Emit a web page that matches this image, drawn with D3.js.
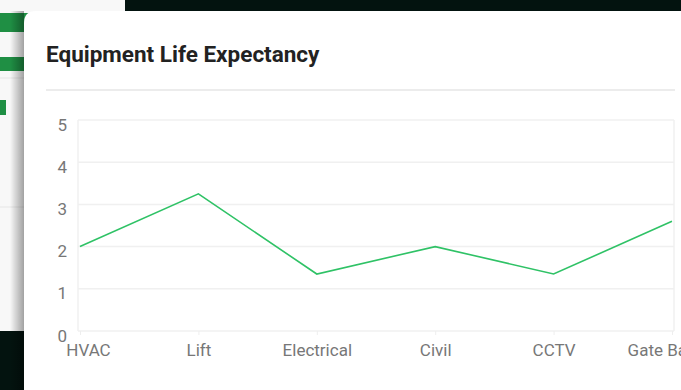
<!DOCTYPE html>
<html>
<head>
<meta charset="utf-8">
<script src="https://cdn.jsdelivr.net/npm/d3@7"></script>
<style>
  html, body { margin: 0; padding: 0; background: #03130f; }
  svg { display: block; font-family: Roboto, "Noto Sans", sans-serif; }
</style>
</head>
<body>
<div class="chart"></div>
<script>
// chart data
var categories = ["HVAC", "Lift", "Electrical", "Civil", "CCTV", "Gate Barrier"];
var lifeValues = [2, 3.25, 1.35, 2, 1.35, 2.6];
var yTicks = [0, 1, 2, 3, 4, 5];

var svgWidth = 681, svgHeight = 390;
var margin = { top: 120, right: 7, bottom: 59, left: 78 };
var width = svgWidth - margin.left - margin.right;
var height = svgHeight - margin.top - margin.bottom;

var svg = d3.select(".chart")
  .append("svg")
  .attr("width", svgWidth)
  .attr("height", svgHeight);

// background app behind the card
var defs = svg.append("defs");
var shadow = defs.append("linearGradient").attr("id", "shadow")
  .attr("x1", "0").attr("x2", "1");
shadow.append("stop").attr("offset", "0").attr("stop-color", "#000").attr("stop-opacity", 0);
shadow.append("stop").attr("offset", "1").attr("stop-color", "#000").attr("stop-opacity", 0.35);

svg.append("rect").attr("x", 0).attr("y", 0).attr("width", 125).attr("height", 331).attr("fill", "#f8f8f8");
svg.append("rect").attr("x", 0).attr("y", 13).attr("width", 40).attr("height", 19).attr("fill", "#1f8f44");
svg.append("rect").attr("x", 0).attr("y", 57).attr("width", 40).attr("height", 14).attr("fill", "#1f8f44");
svg.append("rect").attr("x", 0).attr("y", 100).attr("width", 6).attr("height", 15).attr("fill", "#1f8f44");
svg.append("line").attr("x1", 0).attr("x2", 24).attr("y1", 78).attr("y2", 78).attr("stroke", "#e6e6e6");
svg.append("line").attr("x1", 0).attr("x2", 24).attr("y1", 207).attr("y2", 207).attr("stroke", "#e6e6e6");
svg.append("rect").attr("x", 10).attr("y", 11).attr("width", 14).attr("height", 379).attr("fill", "url(#shadow)");

// card
svg.append("path")
  .attr("d", "M24,390 L24,23 Q24,11 36,11 L681,11 L681,390 Z")
  .attr("fill", "#ffffff");

svg.append("text")
  .attr("x", 46).attr("y", 62)
  .style("font-size", "22.5px")
  .style("font-weight", "700")
  .style("fill", "#222")
  .text("Equipment Life Expectancy");

svg.append("line")
  .attr("x1", 46).attr("x2", 675)
  .attr("y1", 90).attr("y2", 90)
  .attr("stroke", "#ececec").attr("stroke-width", 2);

var chart = svg.append("g")
  .attr("transform", "translate(" + margin.left + "," + margin.top + ")");

var xScale = d3.scalePoint().domain(categories).range([2, width - 2]);
var yScale = d3.scaleLinear().domain([0, 5]).range([height, 0]);

// grid lines
chart.selectAll(".grid")
  .data(yTicks)
  .enter()
  .append("line")
  .attr("class", "grid")
  .attr("x1", 0).attr("x2", width)
  .attr("y1", function(d) { return yScale(d); })
  .attr("y2", function(d) { return yScale(d); })
  .attr("stroke", "#f0f0f0").attr("stroke-width", 1.5);

chart.append("line").attr("x1", 0).attr("x2", 0).attr("y1", 0).attr("y2", height)
  .attr("stroke", "#f0f0f0").attr("stroke-width", 1.5);
chart.append("line").attr("x1", width).attr("x2", width).attr("y1", 0).attr("y2", height)
  .attr("stroke", "#f0f0f0").attr("stroke-width", 1.5);

// y axis labels
var leftAxis = d3.axisLeft(yScale).tickValues(yTicks).tickFormat(d3.format("d"))
  .tickSize(0).tickPadding(11);
var yAxis = chart.append("g").call(leftAxis);
yAxis.select(".domain").remove();
yAxis.selectAll("text")
  .attr("dy", "0.65em")
  .attr("y", -1)
  .style("font-size", "17px")
  .style("font-family", "Roboto, sans-serif")
  .style("fill", "#777");

// x axis labels
var bottomAxis = d3.axisBottom(xScale).tickSize(4).tickPadding(9);
var xAxis = chart.append("g")
  .attr("transform", "translate(0," + height + ")")
  .call(bottomAxis);
xAxis.select(".domain").remove();
xAxis.selectAll("line").attr("stroke", "#eeeeee");
xAxis.selectAll("text")
  .attr("x", function(d, i) { return i === 0 ? 8 : 0; })
  .style("font-size", "17px")
  .style("font-family", "Roboto, sans-serif")
  .style("fill", "#777");

// line
var line = d3.line()
  .x(function(d, i) { return xScale(categories[i]); })
  .y(function(d) { return yScale(d); });

chart.append("path")
  .datum(lifeValues)
  .attr("d", line)
  .attr("fill", "none")
  .attr("stroke", "#2fc266")
  .attr("stroke-width", 1.6);
</script>
</body>
</html>
